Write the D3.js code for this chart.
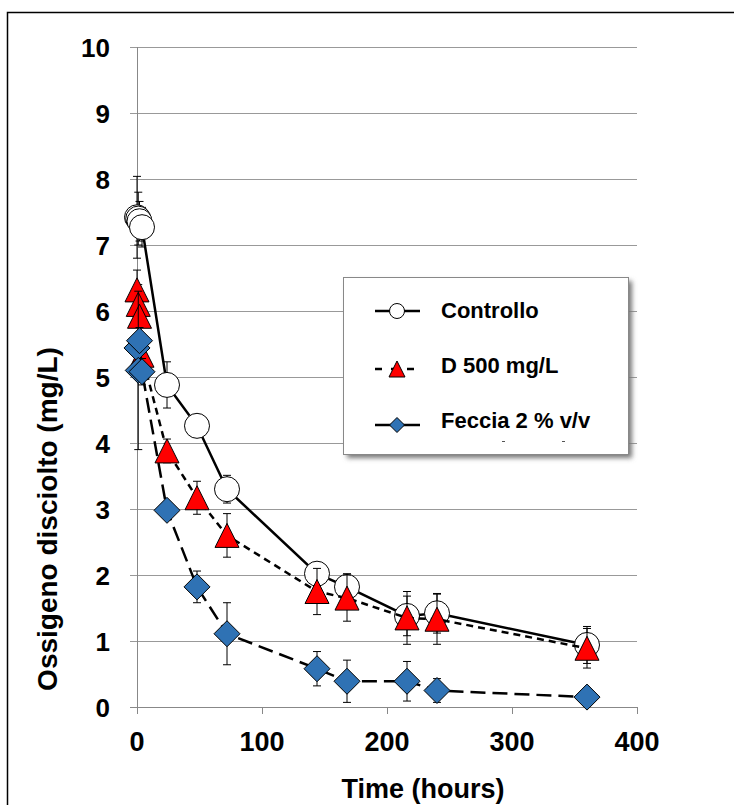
<!DOCTYPE html>
<html>
<head>
<meta charset="utf-8">
<script src="https://cdn.jsdelivr.net/npm/d3@7"></script>
<style>
  body { margin: 0; background: #fff; }
  text { font-family: "Liberation Sans", Arial, sans-serif; font-weight: bold; }
</style>
</head>
<body>
<div id="chart"></div>
<script>
// dati
var times = [0, 1, 2, 4, 24, 48, 72, 144, 168, 216, 240, 360];

var controllo = [7.42, 7.40, 7.36, 7.27, 4.88, 4.26, 3.30, 2.02, 1.82, 1.38, 1.42, 0.94];
var controlloErr = [0.62, 0.40, 0.30, 0.30, 0.35, 0.05, 0.21, 0.17, 0.20, 0.30, 0.30, 0.28];

var d500 = [6.32, 6.10, 5.92, 5.33, 3.88, 3.17, 2.60, 1.75, 1.65, 1.35, 1.33, 0.89];
var d500Err = [0.30, 0.30, 0.30, 0.30, 0.18, 0.25, 0.33, 0.35, 0.35, 0.40, 0.38, 0.30];

var feccia = [5.44, 5.10, 5.55, 5.08, 2.98, 1.82, 1.11, 0.58, 0.39, 0.39, 0.25, 0.15];
var fecciaErr = [0.20, 1.20, 0.20, 0.20, 0.05, 0.24, 0.47, 0.26, 0.32, 0.30, 0.18, 0.0];

var seriesNames = ["Controllo", "D 500 mg/L", "Feccia 2 % v/v"];
var xTicks = [0, 100, 200, 300, 400];
var yTicks = [0, 1, 2, 3, 4, 5, 6, 7, 8, 9, 10];

var W = 734, H = 805;

var x = d3.scaleLinear().domain([0, 400]).range([137, 637]);
var y = d3.scaleLinear().domain([0, 10]).range([707, 47]);

var svg = d3.select("#chart").append("svg")
  .attr("width", W)
  .attr("height", H);

var defs = svg.append("defs");
var shadow = defs.append("filter").attr("id", "shadow")
  .attr("x", "-10%").attr("y", "-10%").attr("width", "130%").attr("height", "130%");
shadow.append("feGaussianBlur").attr("stdDeviation", 2.5);

// cornice esterna
svg.append("rect")
  .attr("x", 7.5).attr("y", 12.5)
  .attr("width", 760).attr("height", 820)
  .attr("fill", "none")
  .attr("stroke", "#000")
  .attr("stroke-width", 1.5);

// griglia orizzontale
svg.append("g").selectAll("line")
  .data(yTicks.filter(function(d) { return d > 0; }))
  .enter().append("line")
  .attr("x1", 130).attr("x2", x(400))
  .attr("y1", function(d) { return y(d) + 0.5; })
  .attr("y2", function(d) { return y(d) + 0.5; })
  .attr("stroke", "#999")
  .attr("stroke-width", 1);

// assi
svg.append("line")
  .attr("x1", x(0) + 0.5).attr("x2", x(0) + 0.5)
  .attr("y1", y(10)).attr("y2", y(0))
  .attr("stroke", "#888");
svg.append("line")
  .attr("x1", 130).attr("x2", x(400))
  .attr("y1", y(0) + 0.5).attr("y2", y(0) + 0.5)
  .attr("stroke", "#888");

svg.append("g").selectAll("line")
  .data(xTicks)
  .enter().append("line")
  .attr("x1", function(d) { return x(d) + 0.5; })
  .attr("x2", function(d) { return x(d) + 0.5; })
  .attr("y1", y(0)).attr("y2", y(0) + 7)
  .attr("stroke", "#888");

svg.append("g").selectAll("text")
  .data(yTicks)
  .enter().append("text")
  .attr("x", 110)
  .attr("y", function(d) { return y(d) + 10; })
  .attr("text-anchor", "end")
  .attr("font-size", 26)
  .text(function(d) { return d; });

svg.append("g").selectAll("text")
  .data(xTicks)
  .enter().append("text")
  .attr("x", function(d) { return x(d); })
  .attr("y", 751)
  .attr("text-anchor", "middle")
  .attr("font-size", 27)
  .text(function(d) { return d; });

svg.append("text")
  .attr("transform", "translate(57,519) rotate(-90)")
  .attr("text-anchor", "middle")
  .attr("font-size", 28)
  .text("Ossigeno disciolto (mg/L)");

svg.append("text")
  .attr("x", 423)
  .attr("y", 798)
  .attr("text-anchor", "middle")
  .attr("font-size", 27)
  .text("Time (hours)");

// marcatori
function circlePath(s) { return d3.symbol().type(d3.symbolCircle).size(Math.PI * s * s / 4)(); }
function trianglePath(s) {
  var h = s / 2;
  return "M0," + (-h) + "L" + h + "," + h + "L" + (-h) + "," + h + "Z";
}
function diamondPath(s) {
  var h = s / 2;
  return "M0," + (-h) + "L" + h + ",0L0," + h + "L" + (-h) + ",0Z";
}

var series = [
  { name: seriesNames[0], vals: controllo, err: controlloErr, dash: null, shape: circlePath, size: 25, fill: "#fff" },
  { name: seriesNames[1], vals: d500, err: d500Err, dash: "7,5", shape: trianglePath, size: 24, fill: "#ff0000" },
  { name: seriesNames[2], vals: feccia, err: fecciaErr, dash: "15,7", shape: diamondPath, size: 26, fill: "#2f72b4" }
];

var line = d3.line()
  .x(function(d) { return x(d[0]); })
  .y(function(d) { return y(d[1]); });

series.forEach(function(s) {
  var pts = times.map(function(t, i) { return [t, s.vals[i], s.err[i]]; });
  var g = svg.append("g");

  g.append("path")
    .datum(pts)
    .attr("d", line)
    .attr("fill", "none")
    .attr("stroke", "#000")
    .attr("stroke-width", 2.5)
    .attr("stroke-dasharray", s.dash);

  var eb = g.selectAll(".eb").data(pts.filter(function(d) { return d[2] > 0.02; }))
    .enter().append("g");
  eb.append("line")
    .attr("x1", function(d) { return x(d[0]); })
    .attr("x2", function(d) { return x(d[0]); })
    .attr("y1", function(d) { return y(d[1] + d[2]); })
    .attr("y2", function(d) { return y(d[1] - d[2]); })
    .attr("stroke", "#000").attr("stroke-width", 1);
  [1, -1].forEach(function(sg) {
    eb.append("line")
      .attr("x1", function(d) { return x(d[0]) - 4; })
      .attr("x2", function(d) { return x(d[0]) + 4; })
      .attr("y1", function(d) { return y(d[1] + sg * d[2]); })
      .attr("y2", function(d) { return y(d[1] + sg * d[2]); })
      .attr("stroke", "#000").attr("stroke-width", 1);
  });

  g.selectAll(".mk").data(pts)
    .enter().append("path")
    .attr("transform", function(d) { return "translate(" + x(d[0]) + "," + y(d[1]) + ")"; })
    .attr("d", s.shape(s.size))
    .attr("fill", s.fill)
    .attr("stroke", "#000")
    .attr("stroke-width", 1);
});

// legenda
var lg = svg.append("g");
lg.append("rect")
  .attr("x", 347).attr("y", 281)
  .attr("width", 285).attr("height", 177)
  .attr("fill", "#777")
  .attr("filter", "url(#shadow)");
lg.append("rect")
  .attr("x", 343.5).attr("y", 277.5)
  .attr("width", 285).attr("height", 177)
  .attr("fill", "#fff")
  .attr("stroke", "#888")
  .attr("stroke-width", 1);

var rowY = [311, 369, 425];
var textY = [318, 373, 428];
series.forEach(function(s, i) {
  lg.append("line")
    .attr("x1", 375).attr("x2", 420)
    .attr("y1", rowY[i]).attr("y2", rowY[i])
    .attr("stroke", "#000")
    .attr("stroke-width", 2.5)
    .attr("stroke-dasharray", i === 1 ? "7,9" : null);
  lg.append("path")
    .attr("transform", "translate(397," + rowY[i] + ")")
    .attr("d", s.shape(i === 1 ? 16 : 15))
    .attr("fill", s.fill)
    .attr("stroke", "#000")
    .attr("stroke-width", 1);
  lg.append("text")
    .attr("x", 441)
    .attr("y", textY[i])
    .attr("font-size", 22)
    .text(s.name);
});

// piccoli residui sotto la legenda
[502, 562].forEach(function(px) {
  lg.append("line")
    .attr("x1", px).attr("x2", px + 3)
    .attr("y1", 441.5).attr("y2", 441.5)
    .attr("stroke", "#555")
    .attr("stroke-width", 1);
});
</script>
</body>
</html>
